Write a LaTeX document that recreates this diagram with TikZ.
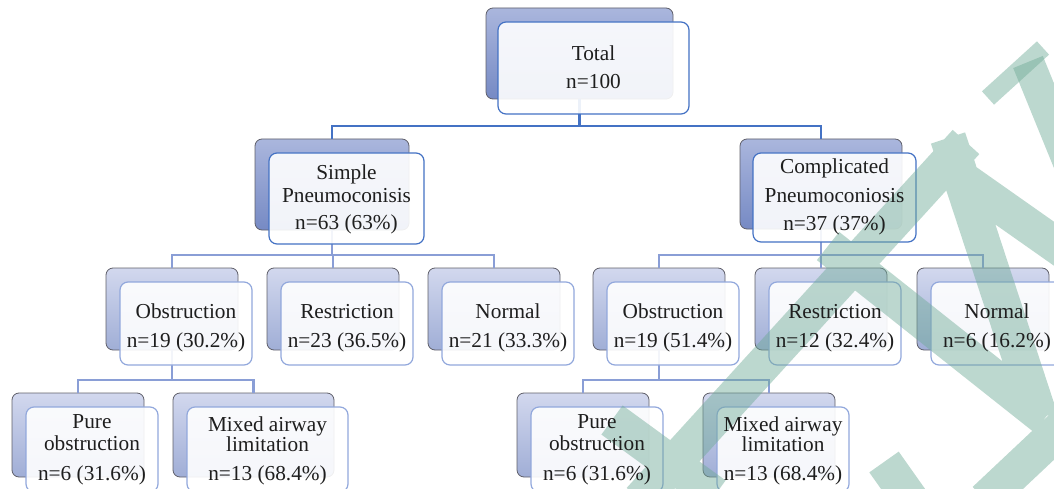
\documentclass[tikz,border=0pt]{standalone}
\usepackage{fontspec}
\setmainfont{Liberation Serif}
\definecolor{bA1}{RGB}{170,182,221}
\definecolor{bA2}{RGB}{118,138,196}
\definecolor{bB1}{RGB}{210,216,238}
\definecolor{bB2}{RGB}{160,174,214}
\definecolor{bord}{RGB}{95,95,105}
\definecolor{fA}{RGB}{68,114,196}
\definecolor{fB}{RGB}{146,168,220}
\definecolor{lnB}{RGB}{138,158,214}
\definecolor{wm}{RGB}{110,170,150}
\definecolor{txtc}{RGB}{30,30,30}
\begin{document}
\begin{tikzpicture}[x=1pt,y=-1pt,
  every node/.style={inner sep=0pt,outer sep=0pt},
  backA/.style={rectangle,rounded corners=7pt,draw=bord,line width=0.8pt,top color=bA1,bottom color=bA2},
  backB/.style={rectangle,rounded corners=7pt,draw=bord,line width=0.8pt,top color=bB1,bottom color=bB2},
  frontA/.style={rectangle,rounded corners=8pt,draw=fA,line width=1.2pt,fill=white,fill opacity=0.9},
  frontB/.style={rectangle,rounded corners=8pt,draw=fB,line width=1.2pt,fill=white,fill opacity=0.9},
  txt/.style={anchor=base,font=\fontsize{21.3}{25}\selectfont,text=txtc},
  conA/.style={draw=fA,line width=2.4pt},
  conB/.style={draw=lnB,line width=2.4pt},
  wmk/.style={draw=wm,draw opacity=0.46}
]
\useasboundingbox (0,0) rectangle (1054,489);
\clip (0,0) rectangle (1054,489);

% ---- back boxes ----
\node[backA,minimum width=187pt,minimum height=91pt] (totB) at (579.5,53.5) {};
\node[backA,minimum width=154pt,minimum height=91pt] (simB) at (332,184.5) {};
\node[backA,minimum width=162pt,minimum height=90pt] (comB) at (821,184) {};

\node[backB,minimum width=132pt,minimum height=82pt] (lObB) at (172,309) {};
\node[backB,minimum width=132pt,minimum height=82pt] (lReB) at (333,309) {};
\node[backB,minimum width=132pt,minimum height=82pt] (lNoB) at (494,309) {};
\node[backB,minimum width=132pt,minimum height=82pt] (rObB) at (659,309) {};
\node[backB,minimum width=132pt,minimum height=82pt] (rReB) at (821,309) {};
\node[backB,minimum width=132pt,minimum height=82pt] (rNoB) at (983,309) {};

\node[backB,minimum width=132pt,minimum height=84pt] (lPuB) at (78,435) {};
\node[backB,minimum width=161pt,minimum height=84pt] (lMiB) at (253.5,435) {};
\node[backB,minimum width=132pt,minimum height=84pt] (rPuB) at (583,435) {};
\node[backB,minimum width=132pt,minimum height=84pt] (rMiB) at (769,435) {};

% ---- connectors ----
\coordinate (bus0) at (579.5,126);
\draw[conA] (totB.south) -- (bus0);
\draw[conA] (bus0) -| (simB.north);
\draw[conA] (bus0) -| (comB.north);

\coordinate (busL) at (332,255);
\draw[conB] (simB.south) -- (busL);
\draw[conB] (busL) -| (lObB.north);
\draw[conB] (busL) -| (lReB.north);
\draw[conB] (busL) -| (lNoB.north);

\coordinate (busR) at (821,255);
\draw[conB] (comB.south) -- (busR);
\draw[conB] (busR) -| (rObB.north);
\draw[conB] (busR) -- (rReB.north);
\draw[conB] (busR) -| (rNoB.north);

\coordinate (busLL) at (172,380);
\draw[conB] (lObB.south) -- (busLL);
\draw[conB] (busLL) -| (lPuB.north);
\draw[conB] (busLL) -| (lMiB.north);

\coordinate (busRR) at (659,380);
\draw[conB] (rObB.south) -- (busRR);
\draw[conB] (busRR) -| (rPuB.north);
\draw[conB] (busRR) -| (rMiB.north);

% ---- front boxes ----
\node[frontA,minimum width=191pt,minimum height=92pt] (totF) at (593.5,68) {};
\node[frontA,minimum width=155pt,minimum height=91pt] (simF) at (346.5,198.5) {};
\node[frontA,minimum width=163pt,minimum height=89pt] (comF) at (834.5,197.5) {};

\node[frontB,minimum width=132pt,minimum height=83pt] (lObF) at (186,323.5) {};
\node[frontB,minimum width=132pt,minimum height=83pt] (lReF) at (347,323.5) {};
\node[frontB,minimum width=132pt,minimum height=83pt] (lNoF) at (508,323.5) {};
\node[frontB,minimum width=132pt,minimum height=83pt] (rObF) at (673,323.5) {};
\node[frontB,minimum width=132pt,minimum height=83pt] (rReF) at (835,323.5) {};
\node[frontB,minimum width=132pt,minimum height=83pt] (rNoF) at (997,323.5) {};

\node[frontB,minimum width=132pt,minimum height=85pt] (lPuF) at (92,449.5) {};
\node[frontB,minimum width=161pt,minimum height=85pt] (lMiF) at (267.5,449.5) {};
\node[frontB,minimum width=132pt,minimum height=85pt] (rPuF) at (597,449.5) {};
\node[frontB,minimum width=132pt,minimum height=85pt] (rMiF) at (783,449.5) {};

% ---- watermark ----
\draw[wmk,line width=36pt]
  (640,500) -- (966,142)
  (828,246) -- (1045,418)
  (948,138) -- (1040,418)
  (935,160) -- (1070,255)
  (612,420) -- (715,495)
  (884,462) -- (925,520)
  (985,500) -- (1070,420);
\draw[wmk,line width=32pt] (1028,62) -- (1070,165);
\draw[wmk,line width=18pt] (988,98) -- (1043,48);

% ---- texts ----
\node[txt] (t1a) at (593.5,61) {Total};
\node[txt] (t1b) at (593.5,89) {n=100};

\node[txt] (t2a) at (346.5,180) {Simple};
\node[txt] (t2b) at (346.5,202) {Pneumoconisis};
\node[txt] (t2c) at (346.5,229) {n=63 (63\%)};

\node[txt] (t3a) at (834.5,174) {Complicated};
\node[txt] (t3b) at (834.5,203) {Pneumoconiosis};
\node[txt] (t3c) at (834.5,230) {n=37 (37\%)};

\node[txt] (t4a) at (186,318) {Obstruction};
\node[txt] (t4b) at (186,347) {n=19 (30.2\%)};
\node[txt] (t5a) at (347,318) {Restriction};
\node[txt] (t5b) at (347,347) {n=23 (36.5\%)};
\node[txt] (t6a) at (508,318) {Normal};
\node[txt] (t6b) at (508,347) {n=21 (33.3\%)};

\node[txt] (t7a) at (673,318) {Obstruction};
\node[txt] (t7b) at (673,347) {n=19 (51.4\%)};
\node[txt] (t8a) at (835,318) {Restriction};
\node[txt] (t8b) at (835,347) {n=12 (32.4\%)};
\node[txt] (t9a) at (997,318) {Normal};
\node[txt] (t9b) at (997,347) {n=6 (16.2\%)};

\node[txt] (t10a) at (92,428) {Pure};
\node[txt] (t10b) at (92,450) {obstruction};
\node[txt] (t10c) at (92,480) {n=6 (31.6\%)};
\node[txt] (t11a) at (267.5,431) {Mixed airway};
\node[txt] (t11b) at (267.5,451) {limitation};
\node[txt] (t11c) at (267.5,480) {n=13 (68.4\%)};

\node[txt] (t12a) at (597,428) {Pure};
\node[txt] (t12b) at (597,450) {obstruction};
\node[txt] (t12c) at (597,480) {n=6 (31.6\%)};
\node[txt] (t13a) at (783,431) {Mixed airway};
\node[txt] (t13b) at (783,451) {limitation};
\node[txt] (t13c) at (783,480) {n=13 (68.4\%)};
\end{tikzpicture}
\end{document}
